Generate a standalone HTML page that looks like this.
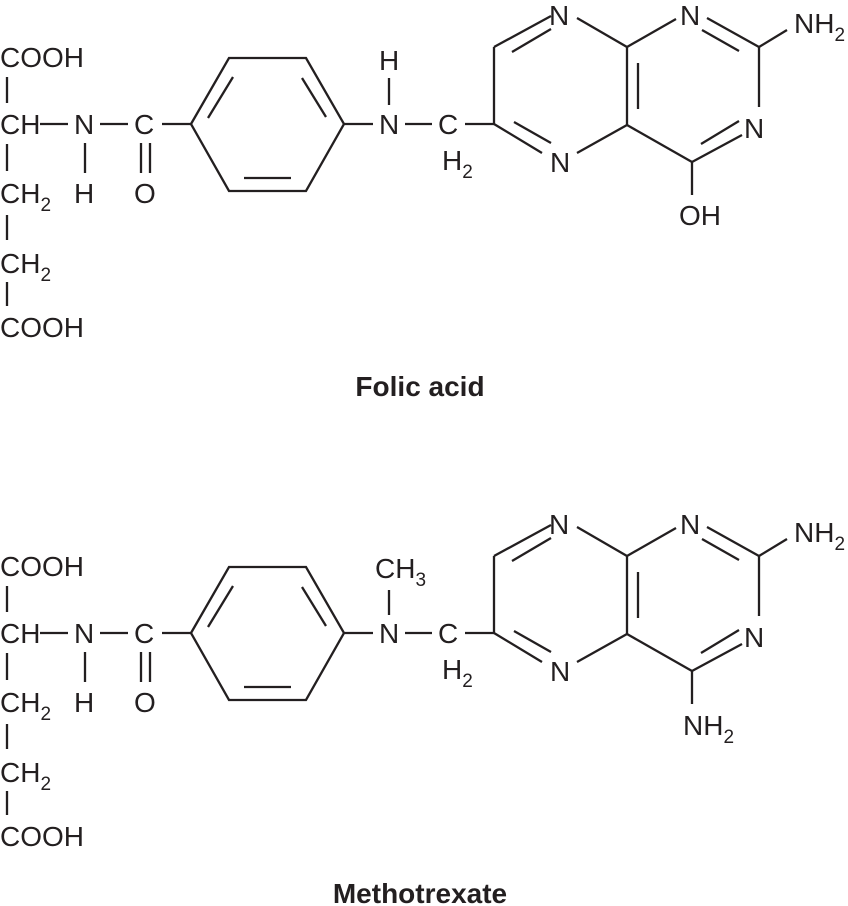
<!DOCTYPE html>
<html><head><meta charset="utf-8"><style>
html,body{margin:0;padding:0;background:#fff;}
svg{display:block;}
text{font-family:"Liberation Sans",sans-serif;font-size:28px;fill:#231f20;}
.s{font-size:19px;}
.b{font-weight:bold;font-size:28px;}
line,polyline{stroke:#231f20;stroke-width:2.3;fill:none;}
</style></head><body>
<svg width="848" height="906" viewBox="0 0 848 906" xmlns="http://www.w3.org/2000/svg">
<defs>
<g id="core">
  <line x1="7" y1="77" x2="7" y2="103"/>
  <line x1="7" y1="144" x2="7" y2="171"/>
  <line x1="7" y1="215" x2="7" y2="240"/>
  <line x1="7" y1="282" x2="7" y2="306"/>
  <text x="0" y="134">CH</text>
  <line x1="40" y1="124" x2="68" y2="124"/>
  <text x="74" y="134">N</text>
  <line x1="100" y1="124" x2="128" y2="124"/>
  <text x="134" y="134">C</text>
  <line x1="162" y1="124" x2="191" y2="124"/>
  <line x1="85" y1="143" x2="85" y2="173"/>
  <text x="74" y="203">H</text>
  <line x1="141" y1="143" x2="141" y2="173"/>
  <line x1="150" y1="143" x2="150" y2="173"/>
  <text x="134" y="203">O</text>
  <text x="0" y="203">CH<tspan class="s" dy="8">2</tspan></text>
  <text x="0" y="273">CH<tspan class="s" dy="8">2</tspan></text>
  <polyline points="191,124 229,58 306,58 344,124 306,191 229,191 191,124"/>
  <line x1="208" y1="118" x2="233" y2="77"/>
  <line x1="302" y1="78" x2="326" y2="117"/>
  <line x1="244" y1="178" x2="291" y2="178"/>
  <line x1="344" y1="124" x2="373" y2="124"/>
  <text x="379" y="134">N</text>
  <line x1="405" y1="124" x2="432" y2="124"/>
  <text x="438" y="134">C</text>
  <text x="442" y="170">H<tspan class="s" dy="8">2</tspan></text>
  <line x1="465" y1="124" x2="494" y2="124"/>
  <line x1="494" y1="124" x2="494" y2="47"/>
  <line x1="494" y1="47" x2="551" y2="16"/>
  <line x1="512" y1="52" x2="551" y2="29"/>
  <text x="549" y="25">N</text>
  <line x1="577" y1="18" x2="627" y2="47"/>
  <line x1="627" y1="47" x2="676" y2="19"/>
  <text x="680" y="25">N</text>
  <line x1="707" y1="18" x2="759" y2="47"/>
  <line x1="702" y1="30" x2="739" y2="51"/>
  <line x1="759" y1="47" x2="787" y2="30"/>
  <text x="794" y="33">NH<tspan class="s" dy="8">2</tspan></text>
  <line x1="759" y1="47" x2="759" y2="107"/>
  <text x="744" y="138">N</text>
  <line x1="742" y1="135" x2="692" y2="162"/>
  <line x1="739" y1="121" x2="701" y2="144"/>
  <line x1="692" y1="162" x2="692" y2="195"/>
  <line x1="692" y1="162" x2="627" y2="125"/>
  <line x1="627" y1="47" x2="627" y2="125"/>
  <line x1="638" y1="63" x2="638" y2="109"/>
  <line x1="627" y1="125" x2="577" y2="153"/>
  <text x="550" y="172">N</text>
  <line x1="542" y1="153" x2="494" y2="124"/>
  <line x1="514" y1="122" x2="551" y2="143"/>
</g>
</defs>

<text x="0" y="67">COOH</text>
<text x="0" y="337">COOH</text>
<use href="#core"/>
<line x1="389" y1="78" x2="389" y2="105"/>
<text x="379" y="70">H</text>
<text x="679" y="225">OH</text>
<text class="b" x="420" y="396" text-anchor="middle">Folic acid</text>

<g transform="translate(0,509)">
<text x="0" y="67">COOH</text>
<text x="0" y="337">COOH</text>
<use href="#core"/>
<line x1="389" y1="81" x2="389" y2="106"/>
<text x="375" y="69">CH<tspan class="s" dy="8">3</tspan></text>
<text x="683" y="226">NH<tspan class="s" dy="8">2</tspan></text>
<text class="b" x="420" y="394" text-anchor="middle">Methotrexate</text>
</g>
</svg>
</body></html>
